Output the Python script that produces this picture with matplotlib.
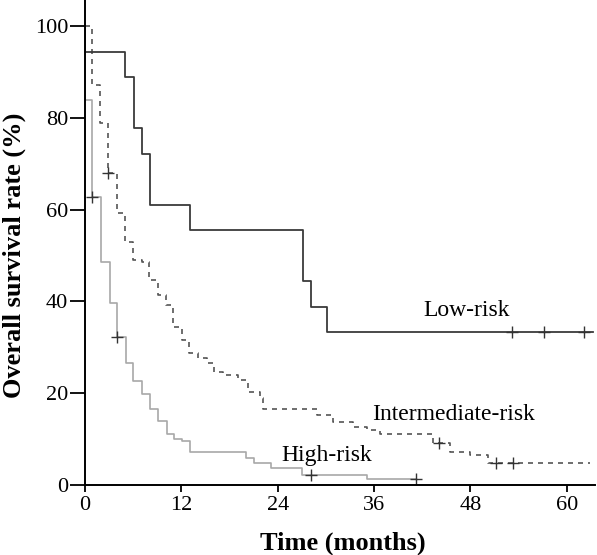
import matplotlib
matplotlib.use("Agg")
import matplotlib.pyplot as plt

plt.rcParams['font.family'] = ['Liberation Serif', 'DejaVu Serif']

# Low-risk group (step curve, survival %)
low_t = [0, 0.05, 5.0, 6.1, 7.1, 8.1, 13.1, 27.1, 28.1, 30.1, 63.3]
low_s = [100, 94.4, 88.9, 77.8, 72.2, 61.1, 55.6, 44.4, 38.9, 33.3, 33.3]
low_cens_t = [53.2, 57.2, 62.1]
low_cens_s = [33.3, 33.3, 33.3]

# Intermediate-risk group
mid_t = [0, 0.9, 1.9, 2.9, 4.0, 5.0, 6.0, 7.1, 8.0, 9.1, 10.1, 11.0, 12.1,
         13.0, 14.1, 15.2, 16.1, 17.2, 19.0, 20.3, 21.8, 22.2, 28.9, 30.9,
         33.4, 35.1, 36.7, 43.3, 45.5, 48.0, 50.2, 62.9]
mid_s = [100, 87.1, 78.9, 68.0, 59.3, 52.9, 49.0, 48.6, 44.7, 41.4, 39.2, 34.4,
         31.6, 28.8, 27.7, 26.6, 24.6, 24.0, 22.9, 20.3, 19.0, 16.6, 15.3, 13.7,
         12.6, 12.0, 11.2, 9.1, 7.2, 6.5, 4.8, 4.8]
mid_cens_t = [2.9, 44.1, 51.2, 53.3]
mid_cens_s = [68.0, 9.1, 4.8, 4.8]

# High-risk group
high_t = [0, 0.05, 0.9, 2.0, 3.1, 4.0, 5.1, 6.0, 7.1, 8.1, 9.1, 10.2, 11.1,
          12.1, 13.1, 20.0, 21.0, 23.1, 27.0, 35.1, 41.2]
high_s = [100, 83.9, 62.7, 48.6, 39.6, 32.2, 26.6, 22.7, 19.8, 16.6, 13.9, 11.1,
          10.0, 9.6, 7.2, 5.9, 4.8, 3.7, 2.2, 1.3, 1.3]
high_cens_t = [0.9, 4.0, 28.1, 41.2]
high_cens_s = [62.7, 32.2, 2.2, 1.3]

xticks = [0, 12, 24, 36, 48, 60]
yticks = [0, 20, 40, 60, 80, 100]

fig = plt.figure(figsize=(5.97, 5.55), dpi=100)
ax = fig.add_axes([0.1424, 0.1261, 0.8542, 0.8739])

ax.step(high_t, high_s, where='post', color='#a8a8a8', lw=1.2)
ax.plot(high_cens_t, high_cens_s, ls='none', marker='+', ms=8, mew=1.0, color='#333333')

ax.step(mid_t, mid_s, where='post', color='#555555', lw=1.2, dashes=(3, 3))
ax.plot(mid_cens_t, mid_cens_s, ls='none', marker='+', ms=8, mew=1.0, color='#333333')

ax.step(low_t, low_s, where='post', color='#3a3a3a', lw=1.3)
ax.plot(low_cens_t, low_cens_s, ls='none', marker='+', ms=8, mew=1.0, color='#333333')

ax.text(42.1, 38.1, 'Low-risk', fontsize=17, va='center', ha='left')
ax.text(35.7, 15.3, 'Intermediate-risk', fontsize=17, va='center', ha='left')
ax.text(24.5, 6.5, 'High-risk', fontsize=17, va='center', ha='left')

ax.set_xlim(0, 63.5)
ax.set_ylim(0, 105.7)
ax.set_xticks(xticks)
ax.set_yticks(yticks)
ax.tick_params(labelsize=16, width=1.3, direction='out')
ax.tick_params(axis='y', length=11, pad=1)
ax.tick_params(axis='x', length=5, pad=3)
for side in ['top', 'right']:
    ax.spines[side].set_visible(False)
for side in ['left', 'bottom']:
    ax.spines[side].set_linewidth(1.4)

ax.set_xlabel('Time (months)', fontsize=19, fontweight='bold')
ax.set_ylabel('Overall survival rate (%)', fontsize=19, fontweight='bold')
ax.xaxis.set_label_coords(0.505, -0.095)
ax.yaxis.set_label_coords(-0.116, 0.474)

fig.savefig('out.png', dpi=100)
